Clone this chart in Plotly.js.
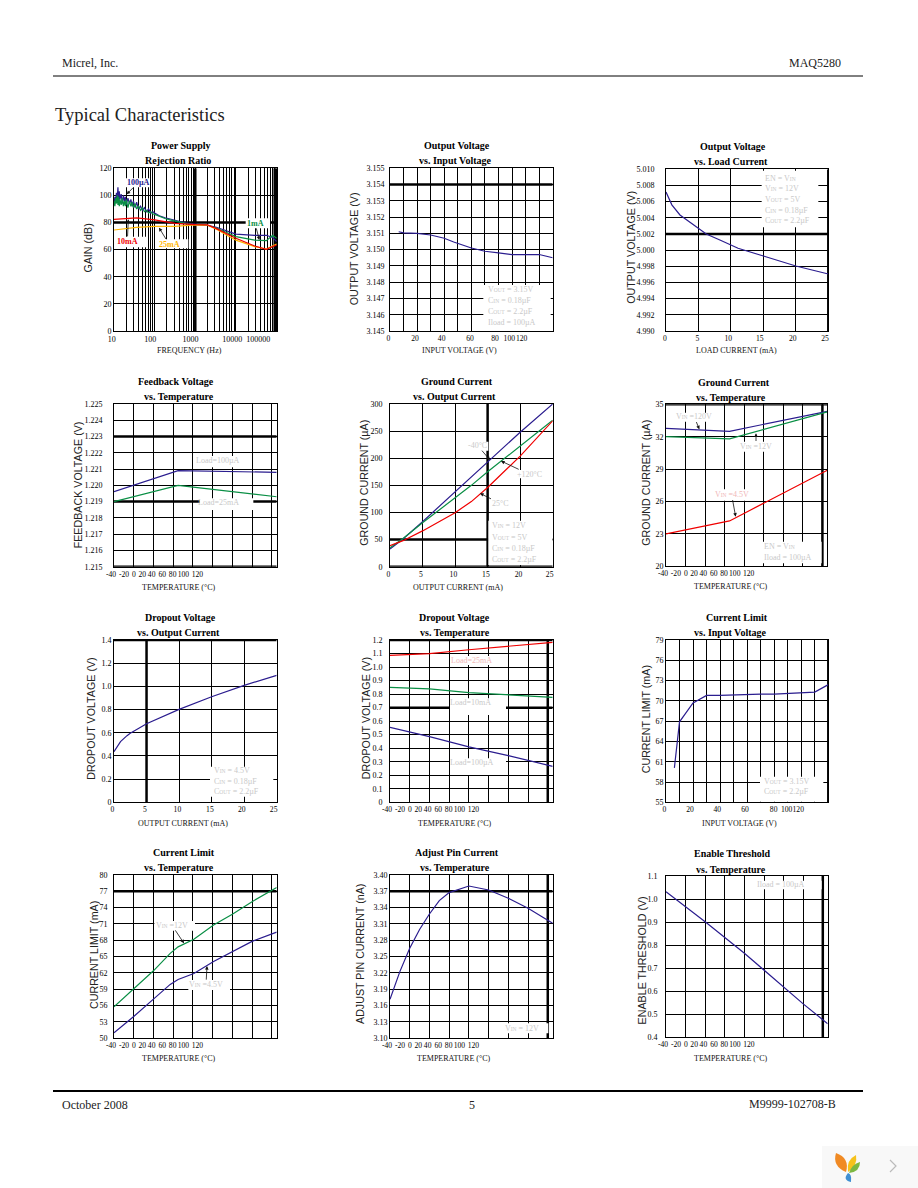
<!DOCTYPE html>
<html><head><meta charset="utf-8">
<script src="https://cdn.plot.ly/plotly-3.0.1.min.js"></script>
<style>html,body{margin:0;padding:0;background:#fff}#g{width:918px;height:1188px}</style>
</head><body><div id="g"></div>
<script>
const NAVY='#2b1d8f',GREEN='#0a8f45',RED='#f00000',ORANGE='#ffb400',FAINT='#c9c9c9',SERIF='"Liberation Serif","Times New Roman",serif',SANS='"Liberation Sans",Arial,sans-serif';

// Shared tick labels
const tempGrid=[-40,-20,0,20,40,60,80,100,120];
const tempLabels=['-40','-20','0','20','40','60','80','100','120'];
const tempLabelAt=[-40,-26.8,-16.7,-8.2,1.2,12,22.5,33.4,47.6];
const curGrid=[0,5,10,15,20,25];
const curLabels=['0','5','10','15','20','25'];
const vinGrid=[0,10,20,30,40,50,60,70,80,90,100,110,120];
const vinLabels=['0','20','40','60','80','100','120'];

// Power supply rejection ratio
const psrrGrid=[10,20,30,40,50,60,70,80,90,100,200,300,400,500,600,700,800,900,1000,2000,3000,4000,5000,6000,7000,8000,9000,10000,20000,30000,40000,50000,60000,70000,80000,90000,100000];
const psrrLabels=['10','100','1000','10000','100000'];
const psrrLabelAt=[10.4,93,910,9600,41800];
const psrrNoiseF=[10,10.5,11,11.5,12,12.5,13,13.5,14,15,16,17,18,19,20,22,24,26,28,30,33,36,40,45,50,56,63,71,80,90,100,130,180,240,316,450,630,800,1000];
const psrr100uA=[93,99,96,102,98,106,95,103,97,101,94,100,96,99,93,98,94,97,92,96,91,95,90,92,89,91,88,90,87,88,87,85,83.5,82.5,81.5,80.5,79.5,79,78.7];
const psrr1mA=[96,92,98,94,100,93,99,92,97,93,98,92,96,92,97,91,96,92,95,91,94,90,92,89,91,88,89,87,88,86.5,86,84.5,83,82,81,80,79,78.7,78.5];
const psrrTailF=[2000,3300,10000,29000,56000,80000,100000];
const psrr100uATail=[78,76.5,71.5,70.6,70.6,69,66];
const psrr1mATail=[78,76,69.6,67,66.6,70.6,68.4];
const psrrSmoothF=[10,36,100,316,1000,2000,3300,10000,29000,56000,100000];
const psrr10mA=[82.4,83.4,81.9,79.4,78.4,78.2,75.5,68.4,62.7,60.2,63.4];
const psrr25mA=[74.5,76.5,77.2,77.2,78.2,78,75,67,62.2,60.5,64.2];

// Output voltage vs input voltage
const ovInV=[6.4,10,20,30,40,47,60,70,80,90,100,110,120];
const ovInOut=[3.1511,3.15103,3.151,3.1509,3.1507,3.15047,3.1501,3.1499,3.1498,3.1497,3.1497,3.1497,3.1495];
// Output voltage vs load current
const ovLoadI=[0,0.9,2.15,5,6.2,8.3,10,11.1,15,17.6,20,22.5,25];
const ovLoadOut=[5.0072,5.0056,5.00435,5.0027,5.002,5.00126,5.00064,5.00023,4.99928,4.99866,4.99804,4.99755,4.99705];
// Feedback voltage vs temperature
const fbT=[-40,25,125];
const fb100uA=[1.21961,1.2209,1.2208];
const fb25mA=[1.219,1.22,1.2193];
// Ground current vs output current
const gndI=[0,2,5,10,12.5,15,17.5,20,25];
const gndM40=[32.6,51,83,138,165,192,220,248,300];
const gnd120=[35,52,81,126,150,175,198.5,222.5,270];
const gnd25=[38.7,48,66,99.6,120,146,175,204,269];
// Ground current vs temperature
const gtT=[-40,25,125];
const gt120V=[32.78,32.5,34.35];
const gt12V=[32,31.8,34.3];
const gt45V=[23,24.2,28.9];
// Dropout vs output current
const doI=[0,0.5,1,2,2.5,5,7.5,10,15,20,25];
const doV=[0.437,0.48,0.523,0.575,0.595,0.678,0.739,0.802,0.911,1.009,1.095];
// Dropout vs temperature
const dtT=[-40,0,40,80,125];
const dt25mA=[1.087,1.099,1.128,1.153,1.183];
const dt10mA=[0.85,0.838,0.811,0.793,0.776];
const dt100uA=[0.554,0.485,0.41,0.345,0.266];
// Current limit vs input voltage
const clV=[6.2,10,20,30,40,50,70,80,90,110,120];
const clI=[60.1,66.9,69.7,70.8,70.8,70.9,71,71,71.1,71.3,72.4];
// Current limit vs temperature
const ctT=[-40,-20,0,17,25,41,61,80,100,125];
const ct12V=[55.8,59.06,62.4,65.6,66.8,68.2,70.8,72.8,75.1,77.7];
const ct45V=[51,54,57.2,59.9,60.8,61.9,64.1,65.9,67.8,69.5];
// Adjust pin current vs temperature
const apT=[-40,-30,-20,-10,0,10,20,40,60,80,100,125];
const apI=[3.1716,3.2225,3.2653,3.3,3.3284,3.353,3.3676,3.3798,3.3725,3.3572,3.3388,3.3113];
// Enable threshold vs temperature
const enT=[-40,0.6,40,60.6,100,125];
const enV=[1.032,0.899,0.765,0.689,0.545,0.459];

const seq=(a,s,n)=>Array.from({length:n},(_,i)=>+(a+i*s).toFixed(4));
const small=s=>'<span style="font-size:5.5px">'+s+'</span>';
const VIN='V'+small('IN'),VOUT='V'+small('OUT'),CIN='C'+small('IN'),COUT='C'+small('OUT');

const charts=[
{base:[60,130],box:[114,168.3,277.3,331],xType:'log',xr:[1,5.018],yr:[0,120],xGrid:psrrGrid,xLabelAt:psrrLabelAt,xLabels:psrrLabels,
 yt:seq(0,20,7),ytxt:['0','20','40','60','80','100','120'],gap:5.5,title:['Power Supply',181.3,'Rejection Ratio',178],ty:[145.7,160.7],
 ytitle:['GAIN (dB)',88.3,248.3],xtitle:['FREQUENCY (Hz)',189,351],
 traces:[[psrrNoiseF.concat(psrrTailF),psrr100uA.concat(psrr100uATail),NAVY],[psrrNoiseF.concat(psrrTailF),psrr1mA.concat(psrr1mATail),GREEN],[psrrSmoothF,psrr25mA,ORANGE],[psrrSmoothF,psrr10mA,RED]],
 thickX:[1000,90000,100000],thickY:[80],
 boxes:[[198,145,270,172],[165,320,262,352],[295,328,385,355],[557,265,630,295]],
 notes:[['100µA',234,158,NAVY,'center',1,200,193],['10mA',202,334,RED,'center',1,205,268],['25mA',327,342,ORANGE,'center',1,297,293],['1mA',585,280,GREEN,'center',1,598,330]]},
{base:[340,130],box:[390,168.3,552.7,331],xr:[0,120],yr:[3.145,3.155],xGrid:vinGrid,xLabelAt:[1,20.7,40.3,61.2,79.7,90.2,99.3],xLabels:vinLabels,
 yt:seq(3.145,0.001,11),ytxt:['3.145','3.146','3.147','3.148','3.149','3.150','3.151','3.152','3.153','3.154','3.155'],gap:3,title:['Output Voltage',457,'vs. Input Voltage',455],ty:[145.7,160.7],
 ytitle:['OUTPUT VOLTAGE (V)',354,249.3],xtitle:['INPUT VOLTAGE (V)',460,351],
 traces:[[ovInV,ovInOut,NAVY]],thickX:[],thickY:[3.154],
 boxes:[[430,465,632,603]],
 notes:[[VOUT+' = 3.15V',442,478],[CIN+' = 0.18µF',442,512],[COUT+' = 2.2µF',442,545],['Iload = 100µA',442,577]]},
{base:[620,130],box:[666,169.3,828.3,331],xr:[0,25],yr:[4.99,5.01],xGrid:curGrid,xLabelAt:[0.3,5.3,10.06,14.9,20,24.95],xLabels:curLabels,
 yt:seq(4.99,0.002,11),ytxt:['4.990','4.992','4.994','4.996','4.998','5.000','5.002','5.004','5.006','5.008','5.010'],gap:9,title:['Output Voltage',733,'vs. Load Current',731],ty:[146.7,161.7],
 ytitle:['OUTPUT VOLTAGE (V)',630.7,247],xtitle:['LOAD CURRENT (mA)',736,351],
 traces:[[ovLoadI,ovLoadOut,NAVY]],thickX:[25],thickY:[5.002],
 boxes:[[425,122,595,292]],
 notes:[['EN = '+VIN,432,145],[VIN+' = 12V',432,175],[VOUT+' = 5V',432,208],[CIN+' = 0.18µF',432,240],[COUT+' = 2.2µF',432,273]]},
{base:[60,370],box:[114,404,276.7,566.7],xr:[-40,125],yr:[1.215,1.225],xGrid:tempGrid,xLabelAt:tempLabelAt,xLabels:tempLabels,
 yt:seq(1.215,0.001,11),ytxt:['1.215','1.216','1.217','1.218','1.219','1.220','1.221','1.222','1.223','1.224','1.225'],gap:9,title:['Feedback Voltage',176,'vs. Temperature',179],ty:[381.7,396.7],
 ytitle:['FEEDBACK VOLTAGE (V)',78.3,485],xtitle:['TEMPERATURE (°C)',179,587],
 traces:[[fbT,fb100uA,NAVY],[fbT,fb25mA,GREEN]],thickX:[],thickY:[1.223,1.219,1.215],
 boxes:[[400,258,545,292],[420,385,580,420]],
 notes:[['Load=100µA',475,272,FAINT,'center'],['Load=25mA',475,398,FAINT,'center']]},
{base:[340,370],box:[390,404,552.7,566.7],xr:[0,25],yr:[0,300],xGrid:curGrid,xLabelAt:[0.2,5.2,10.2,15.2,20.2,24.99],xLabels:curLabels,
 yt:seq(0,50,7),ytxt:['0','50','100','150','200','250','300'],gap:5,title:['Ground Current',456.7,'vs. Output Current',454],ty:[381.7,396.7],
 ytitle:['GROUND CURRENT (µA)',364,482.7],xtitle:['OUTPUT CURRENT (mA)',458,587],
 traces:[[gndI,gndM40,NAVY],[gndI,gnd120,GREEN],[gndI,gnd25,RED]],thickX:[15],thickY:[50,0],
 boxes:[[385,215,445,242],[535,300,600,325],[455,388,505,412],[445,452,640,585]],
 notes:[['-40°C',413,227,FAINT,'center',0,450,270],['+120°C',568,313,FAINT,'center',0,483,273],['25°C',480,400,FAINT,'center',0,420,370],[VIN+' = 12V',453,468],[VOUT+' = 5V',453,502],[CIN+' = 0.18µF',453,535],[COUT+' = 2.2µF',453,567]]},
{base:[620,370],box:[666,404.3,827.3,566.3],xr:[-40,125],yr:[20,35],xGrid:tempGrid,xLabelAt:tempLabelAt,xLabels:tempLabels,
 yt:seq(20,3,6),ytxt:['20','23','26','29','32','35'],gap:3.5,title:['Ground Current',734,'vs. Temperature',731],ty:[382.7,397.7],
 ytitle:['GROUND CURRENT (µA)',646,482.7],xtitle:['TEMPERATURE (°C)',730.7,586],
 traces:[[gtT,gt120V,NAVY],[gtT,gt12V,GREEN],[gtT,gt45V,RED]],thickX:[120],thickY:[35],
 boxes:[[170,128,275,155],[360,215,458,245],[285,358,390,392],[420,515,605,580]],
 notes:[[VIN+' =120V',223,141,FAINT,'center',0,238,178],[VIN+' =12V',408,228,FAINT,'center',0,408,190],[VIN+' =4.5V',335,375,'#f0b8b8','center',0,347,440],['EN = '+VIN,430,530],['Iload = 100µA',430,562]]},
{base:[60,605],box:[114,640,276.7,802.3],xr:[0,25],yr:[0,1.4],xGrid:curGrid,xLabelAt:[0.2,5.2,10.2,15.2,20.1,24.99],xLabels:curLabels,
 yt:seq(0,0.2,8),ytxt:['0','0.2','0.4','0.6','0.8','1.0','1.2','1.4'],gap:7.5,title:['Dropout Voltage',180,'vs. Output Current',178],ty:[617.7,632.7],
 ytitle:['DROPOUT VOLTAGE (V)',90.7,719],xtitle:['OUTPUT CURRENT (mA)',183,823],
 traces:[[doI,doV,NAVY]],thickX:[5],thickY:[1.4],
 boxes:[[450,485,640,575]],
 notes:[[VIN+' = 4.5V',458,497],[CIN+' = 0.18µF',458,528],[COUT+' = 2.2µF',458,560]]},
{base:[340,605],box:[390,640,552.7,802.3],xr:[-40,125],yr:[0,1.2],xGrid:tempGrid,xLabelAt:tempLabelAt,xLabels:tempLabels,
 yt:seq(0,0.1,13),ytxt:['0','0.1','0.2','0.3','0.4','0.5','0.6','0.7','0.8','0.9','1.0','1.1','1.2'],gap:5,title:['Dropout Voltage',454,'vs. Temperature',455],ty:[617.7,632.7],
 ytitle:['DROPOUT VOLTAGE (V)',366,718.3],xtitle:['TEMPERATURE (°C)',455,823],
 traces:[[dtT,dt25mA,RED],[dtT,dt10mA,GREEN],[dtT,dt100uA,NAVY]],thickX:[120],thickY:[1.2,0.7],
 boxes:[[330,153,460,180],[330,280,498,330],[330,460,498,510]],
 notes:[['Load=25mA',395,165,'#f0b8b8','center'],['Load=10mA',392,292,FAINT,'center'],['Load=100µA',395,472,FAINT,'center']]},
{base:[620,605],box:[666,640,828.3,802.3],xr:[0,120],yr:[55,79],xGrid:vinGrid,xLabelAt:[1,20,40.2,60.6,81.8,91.4,100],xLabels:vinLabels,
 yt:seq(55,3,9),ytxt:['55','58','61','64','67','70','73','76','79'],gap:3.5,title:['Current Limit',736.7,'vs. Input Voltage',730.7],ty:[617.7,632.7],
 ytitle:['CURRENT LIMIT (mA)',646,719.3],xtitle:['INPUT VOLTAGE (V)',739,823],
 traces:[[clV,clI,NAVY]],thickX:[120],thickY:[],
 boxes:[[420,515,610,590]],
 notes:[[VOUT+' = 3.15V',430,528],[COUT+' = 2.2µF',430,558]]},
{base:[60,840],box:[114,875,276.7,1038.3],xr:[-40,125],yr:[50,80],xGrid:tempGrid,xLabelAt:tempLabelAt,xLabels:tempLabels,
 yt:seq(50,3,11),ytxt:['50','53','56','59','62','65','68','71','74','77','80'],gap:4,title:['Current Limit',184,'vs. Temperature',179],ty:[852.7,867.7],
 ytitle:['CURRENT LIMIT (mA)',94,955],xtitle:['TEMPERATURE (°C)',179,1058],
 traces:[[ctT,ct12V,GREEN],[ctT,ct45V,NAVY]],thickX:[],thickY:[77],
 boxes:[[283,243,405,272],[385,420,510,450]],
 notes:[[VIN+' =12V',336,256,FAINT,'center',0,372,310],[VIN+' =4.5V',438,434,FAINT,'center',0,441,378]]},
{base:[340,840],box:[390,875,552.7,1038.3],xr:[-40,125],yr:[3.1,3.4],xGrid:tempGrid,xLabelAt:tempLabelAt,xLabels:tempLabels,
 yt:seq(3.1,0.03,11),ytxt:['3.10','3.13','3.16','3.19','3.22','3.25','3.28','3.31','3.34','3.37','3.40'],gap:7.5,title:['Adjust Pin Current',456.7,'vs. Temperature',455],ty:[852.7,867.7],
 ytitle:['ADJUST PIN CURRENT (nA)',360,954],xtitle:['TEMPERATURE (°C)',454,1058],
 traces:[[apT,apI,NAVY]],thickX:[120],thickY:[3.37],
 boxes:[[475,550,625,580]],
 notes:[[VIN+' = 12V',547,565,FAINT,'center']]},
{base:[620,840],box:[666,876,827.7,1037.3],xr:[-40,125],yr:[0.4,1.1],xGrid:tempGrid,xLabelAt:tempLabelAt,xLabels:tempLabels,
 yt:seq(0.4,0.1,8),ytxt:['0.4','0.5','0.6','0.7','0.8','0.9','1.0','1.1'],gap:6,title:['Enable Threshold',732,'vs. Temperature',731],ty:[853,869],
 ytitle:['ENABLE THRESHOLD (V)',641.7,960.7],xtitle:['TEMPERATURE (°C)',731,1058],
 traces:[[enT,enV,NAVY]],thickX:[120],thickY:[],
 boxes:[[425,122,605,148]],
 notes:[['Iload = 100µA',483,132,FAINT,'center']]},
];

const W=918,H=1188,px=x=>x/W,py=y=>1-y/H;
const data=[],shapes=[],annotations=[],layout={width:W,height:H,autosize:false,margin:{l:0,r:0,t:0,b:0,pad:0},paper_bgcolor:'#fff',plot_bgcolor:'#fff',showlegend:false};

function txt(text,x,y,o={}){annotations.push(Object.assign({text,xref:'paper',yref:'paper',x:px(x),y:py(y),showarrow:false,xanchor:'center',yanchor:'middle',borderpad:0,font:{family:SERIF,size:8.5,color:'#000'}},o));}

charts.forEach((c,i)=>{
  const n=i+1,sx=i?'x'+n:'x',sy=i?'y'+n:'y',xk=i?'xaxis'+n:'xaxis',yk=i?'yaxis'+n:'yaxis',[x0,y0,x1,y1]=c.box,[bx,by]=c.base;
  const X=z=>bx+z/3,Y=z=>by+z/3;
  const dx=p=>{const v=c.xr[0]+(p-x0)/(x1-x0)*(c.xr[1]-c.xr[0]);return c.xType==='log'?Math.pow(10,v):v;};
  const dy=p=>c.yr[0]+(y1-p)/(y1-y0)*(c.yr[1]-c.yr[0]);
  layout[xk]={type:c.xType||'linear',domain:[px(x0),px(x1)],range:c.xr,anchor:sy,showgrid:false,zeroline:false,showline:true,mirror:true,linecolor:'#000',linewidth:1,
    tickmode:'array',tickvals:c.xLabelAt,ticktext:c.xLabels,ticks:'',ticklen:0,ticklabelshift:-3,tickangle:0,tickfont:{family:SERIF,size:c.xType?8:7.6,color:'#000'},
    minor:{tickmode:'array',tickvals:c.xGrid,showgrid:true,gridcolor:'#000',gridwidth:1,ticks:'',ticklen:0}};
  layout[yk]={domain:[py(y1),py(y0)],range:c.yr,anchor:sx,showgrid:true,gridcolor:'#000',gridwidth:1,zeroline:false,showline:true,mirror:true,linecolor:'#000',linewidth:1,
    tickmode:'array',tickvals:c.yt,ticktext:c.ytxt,ticks:'',ticklen:0,ticklabelstandoff:c.gap,tickfont:{family:SERIF,size:8,color:'#000'}};
  c.traces.forEach(t=>data.push({type:'scatter',mode:'lines',x:t[0],y:t[1],xaxis:sx,yaxis:sy,line:{color:t[2],width:1.2},hoverinfo:'skip'}));
  c.thickX.forEach(v=>shapes.push({type:'line',layer:'between',xref:sx,yref:sy,x0:v,x1:v,y0:c.yr[0],y1:c.yr[1],line:{color:'#000',width:2.5}}));
  c.thickY.forEach(v=>shapes.push({type:'line',layer:'between',xref:sx,yref:sy,x0:dx(x0),x1:dx(x1),y0:v,y1:v,line:{color:'#000',width:2.5}}));
  c.boxes.forEach(b=>shapes.push({type:'rect',layer:'between',xref:sx,yref:sy,x0:dx(Math.max(X(b[0]),x0)),x1:dx(Math.min(X(b[2]),x1)),y0:dy(Math.min(Y(b[3]),y1)),y1:dy(Math.max(Y(b[1]),y0)),line:{width:0},fillcolor:'#fff'}));
  txt(c.title[0],c.title[1],c.ty[0],{font:{family:SERIF,size:10,color:'#000',weight:700}});
  txt(c.title[2],c.title[3],c.ty[1],{font:{family:SERIF,size:10,color:'#000',weight:700}});
  txt(c.xtitle[0],c.xtitle[1],c.xtitle[2],{font:{family:SERIF,size:8,color:'#111'}});
  txt(c.ytitle[0],c.ytitle[1],c.ytitle[2],{textangle:-90,font:{family:SANS,size:10.7,color:'#222'}});
  c.notes.forEach(a=>{
    const o={xanchor:a[4]||'left',font:{family:SERIF,size:8,color:a[3]||FAINT,weight:a[5]?700:400}};
    if(a[6]!==undefined){
      // label with an arrow: head at (a[6],a[7]), text centred at the label position
      Object.assign(o,{showarrow:true,ax:(a[1]-a[6])/3,ay:(a[2]-a[7])/3,axref:'pixel',ayref:'pixel',arrowhead:2,arrowsize:0.9,arrowwidth:0.8,arrowcolor:'#111',xanchor:'auto',yanchor:'auto'});
      txt(a[0],X(a[6]),Y(a[7]),o);
    } else txt(a[0],X(a[1]),Y(a[2]),o);
  });
});

// Page furniture
[[53,76,863,76,1],[53,1091,863,1091,2]].forEach(l=>shapes.push({type:'line',xref:'paper',yref:'paper',x0:px(l[0]),y0:py(l[1]),x1:px(l[2]),y1:py(l[3]),line:{color:'#000',width:l[4]},layer:'above'}));
const leaf=(pts,col)=>shapes.push({type:'path',xref:'paper',yref:'paper',layer:'above',line:{width:0},fillcolor:col,
  path:'M'+px(pts[0])+','+py(pts[1])+' Q'+px(pts[2])+','+py(pts[3])+' '+px(pts[4])+','+py(pts[5])+' Q'+px(pts[6])+','+py(pts[7])+' '+px(pts[0])+','+py(pts[1])+' Z'});
shapes.push({type:'rect',xref:'paper',yref:'paper',layer:'above',x0:px(822),x1:px(918),y0:py(1188),y1:py(1146),line:{width:0},fillcolor:'#f8f8f8'});
leaf([846,1172,832,1166,836,1153,850,1158],'#f08a24');
leaf([848,1172,846,1160,856,1155,858,1166],'#f6c21c');
leaf([849,1173,852,1164,860,1162,860,1172],'#7cb742');
leaf([848,1173,852,1174,851,1182,842,1180],'#3f8fd2');
shapes.push({type:'path',xref:'paper',yref:'paper',layer:'above',line:{color:'#bbb',width:1.2},path:'M'+px(890)+','+py(1160)+' L'+px(896)+','+py(1166)+' L'+px(890)+','+py(1172)});
const PAGE={family:SERIF,size:12,color:'#222'};
txt('Micrel, Inc.',61,63,{xanchor:'left',font:PAGE});
txt('MAQ5280',842,63,{xanchor:'right',font:PAGE});
txt('Typical Characteristics',54,115,{xanchor:'left',font:{family:SERIF,size:18.5,color:'#222'}});
txt('October 2008',61,1105,{xanchor:'left',font:PAGE});
txt('5',472,1105,{font:PAGE});
txt('M9999-102708-B',837,1104,{xanchor:'right',font:PAGE});

layout.shapes=shapes;layout.annotations=annotations;
Plotly.newPlot('g',data,layout,{staticPlot:true,displayModeBar:false});
</script></body></html>
